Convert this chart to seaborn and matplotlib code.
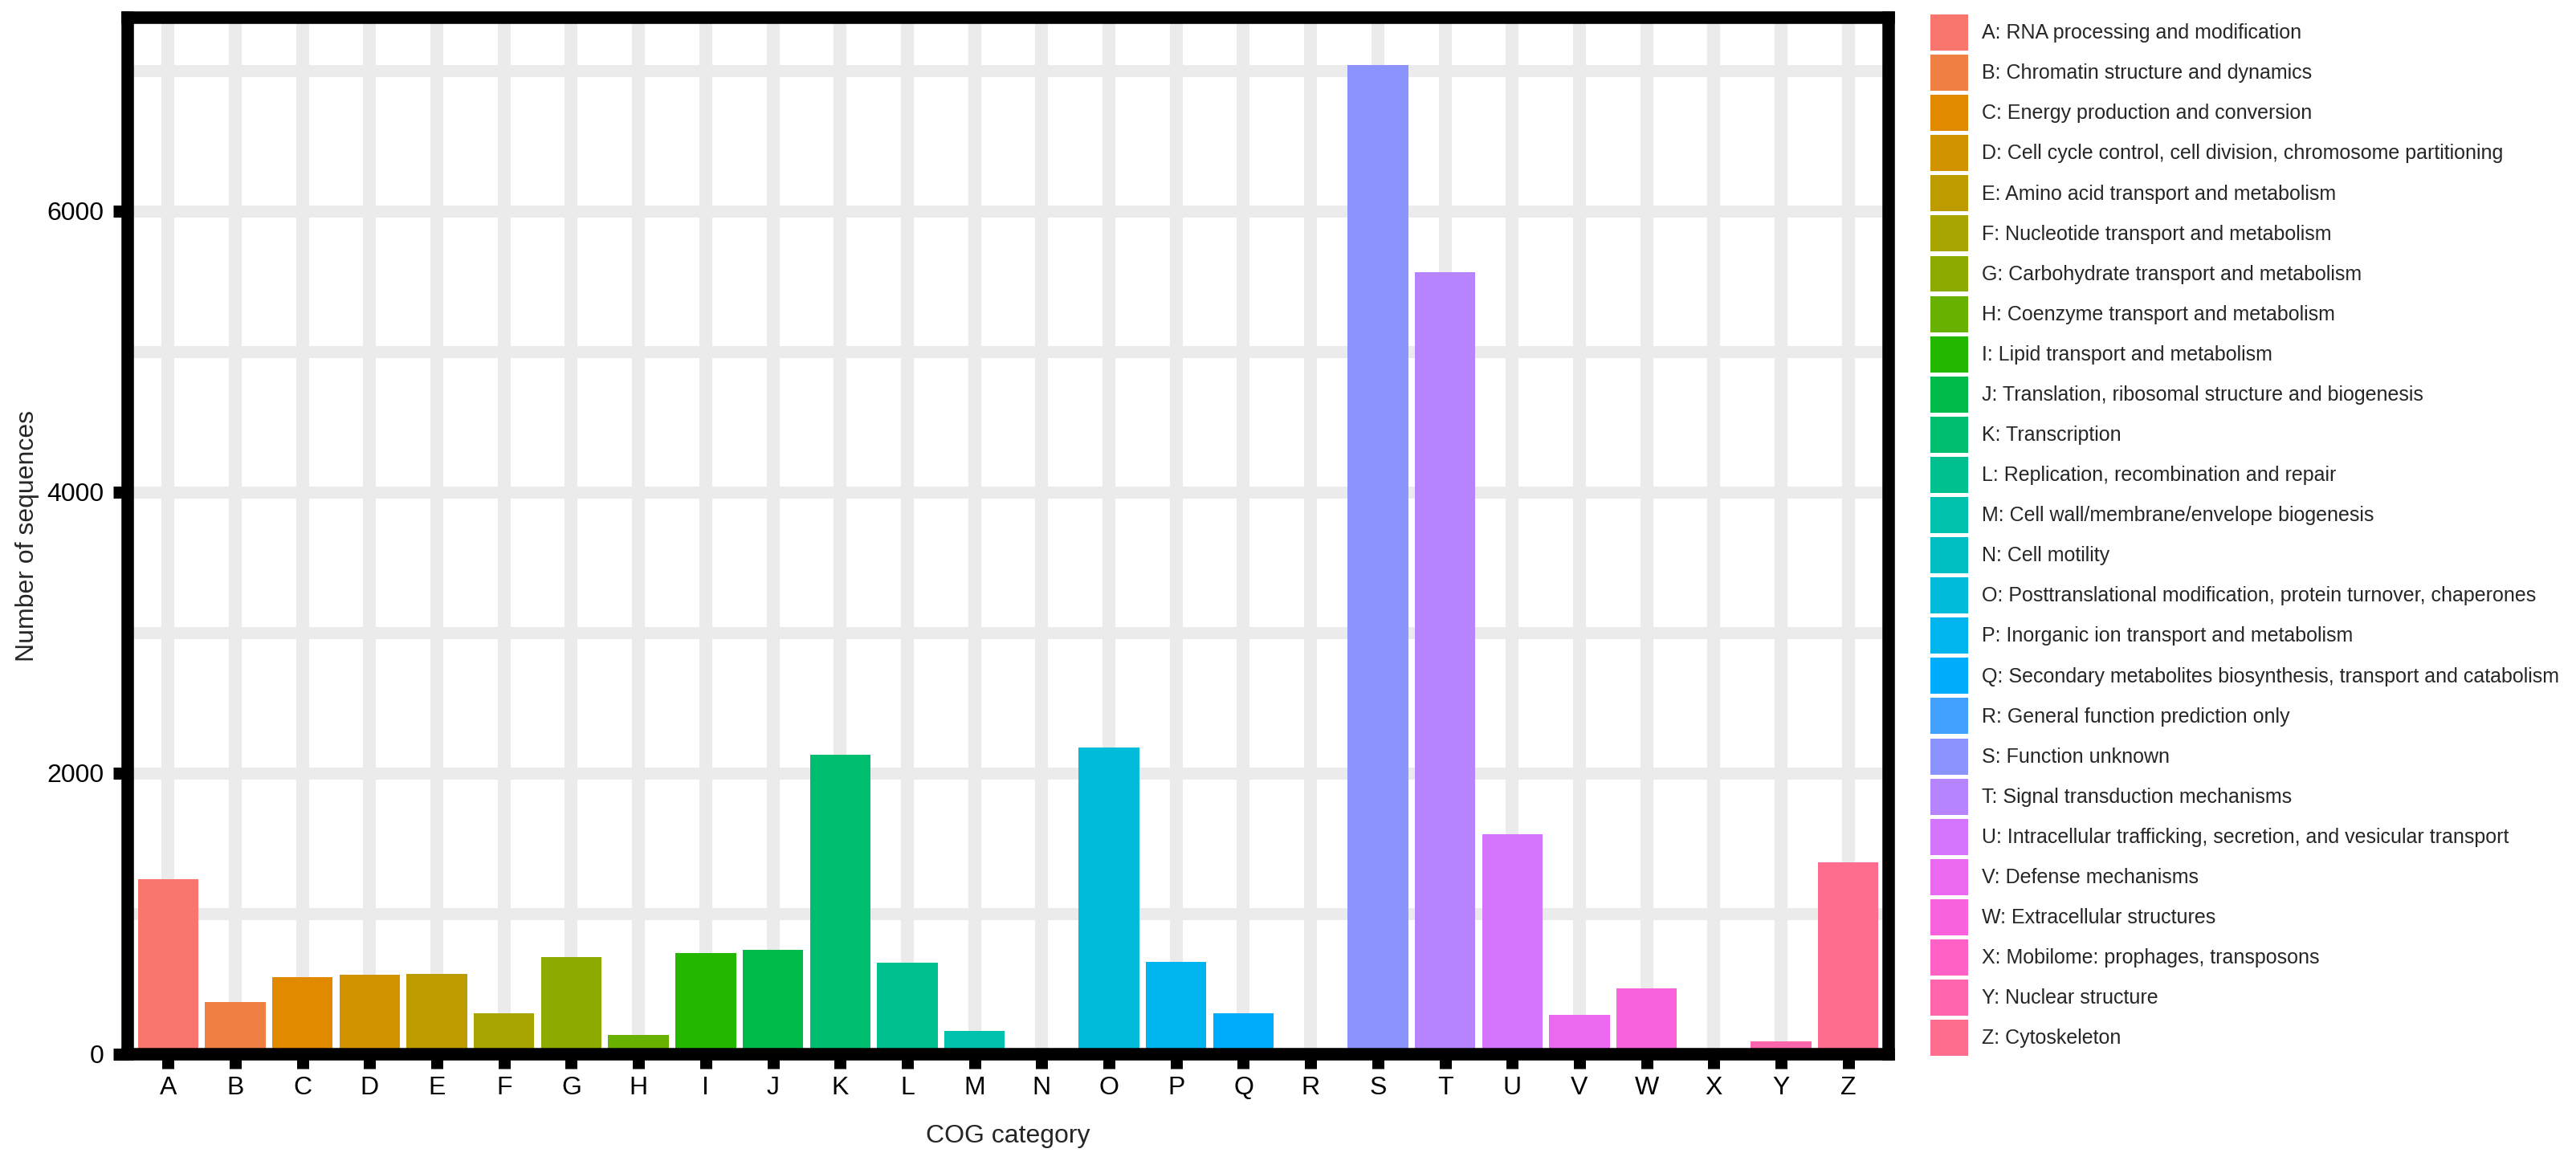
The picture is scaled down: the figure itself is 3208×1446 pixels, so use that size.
# COG functional classification bar chart

import numpy as np
import pandas as pd
import seaborn as sns
import matplotlib
matplotlib.use("Agg")
import matplotlib.pyplot as plt
from matplotlib.patches import Patch
from matplotlib.ticker import FixedLocator

# Data
categories = list("ABCDEFGHIJKLMNOPQRSTUVWXYZ")
counts = [1246, 372, 550, 567, 572, 292, 692, 138, 721, 744, 2131, 652, 167, 0,
          2183, 658, 292, 0, 7042, 5568, 1566, 281, 470, 0, 92, 1366]
descriptions = [
    "A: RNA processing and modification",
    "B: Chromatin structure and dynamics",
    "C: Energy production and conversion",
    "D: Cell cycle control, cell division, chromosome partitioning",
    "E: Amino acid transport and metabolism",
    "F: Nucleotide transport and metabolism",
    "G: Carbohydrate transport and metabolism",
    "H: Coenzyme transport and metabolism",
    "I: Lipid transport and metabolism",
    "J: Translation, ribosomal structure and biogenesis",
    "K: Transcription",
    "L: Replication, recombination and repair",
    "M: Cell wall/membrane/envelope biogenesis",
    "N: Cell motility",
    "O: Posttranslational modification, protein turnover, chaperones",
    "P: Inorganic ion transport and metabolism",
    "Q: Secondary metabolites biosynthesis, transport and catabolism",
    "R: General function prediction only",
    "S: Function unknown",
    "T: Signal transduction mechanisms",
    "U: Intracellular trafficking, secretion, and vesicular transport",
    "V: Defense mechanisms",
    "W: Extracellular structures",
    "X: Mobilome: prophages, transposons",
    "Y: Nuclear structure",
    "Z: Cytoskeleton",
]
y_ticks = [0, 2000, 4000, 6000]
y_minor = [1000, 3000, 5000, 7000]


# ggplot2 default hue palette (hcl, c=100, l=65)
def hcl_hex(h, c=100.0, l=65.0):
    wx, wy, wz = 95.047, 100.0, 108.883
    hr = np.deg2rad(h)
    U, V = c * np.cos(hr), c * np.sin(hr)
    Y = wy * ((l + 16) / 116) ** 3
    t = wx + 15 * wy + 3 * wz
    u = U / (13 * l) + 4 * wx / t
    v = V / (13 * l) + 9 * wy / t
    X = 9.0 * Y * u / (4 * v)
    Z = -X / 3 - 5 * Y + 3 * Y / v
    rgb = np.array([
        3.240479 * X - 1.537150 * Y - 0.498535 * Z,
        -0.969256 * X + 1.875992 * Y + 0.041556 * Z,
        0.055648 * X - 0.204043 * Y + 1.057311 * Z,
    ]) / wy
    rgb = np.where(rgb > 0.00304, 1.055 * np.abs(rgb) ** (1 / 2.4) - 0.055, 12.92 * rgb)
    rgb = np.clip(np.round(rgb * 255), 0, 255).astype(int)
    return "#{:02X}{:02X}{:02X}".format(*rgb)


hues = np.linspace(15, 375, len(categories) + 1)[:-1]
colors = [hcl_hex(h) for h in hues]

df = pd.DataFrame({"category": categories, "count": counts})

sns.set_style("white")
plt.rcParams["font.family"] = ["Liberation Sans", "DejaVu Sans"]

W, H, DPI = 3208, 1446, 200
fig = plt.figure(figsize=(W / DPI, H / DPI), dpi=DPI)
ax = fig.add_axes([159 / W, 1 - 1313 / H, (2352 - 159) / W, (1313 - 21.5) / H])

sns.barplot(data=df, x="category", y="count", hue="category", order=categories,
            hue_order=categories, palette=colors, dodge=False, width=0.9,
            saturation=1, linewidth=0, legend=False, ax=ax)

ax.set_xlim(-0.6, len(categories) - 0.4)
ax.set_ylim(0, 7380)
ax.set_yticks(y_ticks)
ax.yaxis.set_minor_locator(FixedLocator(y_minor))

# Panel grid
ax.set_axisbelow(True)
ax.grid(True, which="both", axis="y", color="#EBEBEB", linewidth=5.4)
ax.grid(True, which="major", axis="x", color="#EBEBEB", linewidth=5.8)

# Thick panel border
for side in ["left", "right", "top", "bottom"]:
    ax.spines[side].set_visible(True)
    ax.spines[side].set_color("black")
    ax.spines[side].set_linewidth(5.6)

ax.tick_params(axis="both", which="major", length=6.5, width=5.4, color="black",
               labelsize=11.5, labelcolor="black", bottom=True, left=True)
ax.tick_params(axis="x", pad=3.2)
ax.tick_params(axis="y", pad=4)
ax.tick_params(which="minor", length=0)

ax.set_xlabel("COG category", fontsize=11.5)
ax.set_ylabel("Number of sequences", fontsize=11.5)
ax.xaxis.set_label_coords(0.5, -0.067)
ax.yaxis.set_label_coords(-0.050, 0.5)

# Legend
handles = [Patch(facecolor=c, edgecolor="none", label=d) for c, d in zip(colors, descriptions)]
fig.legend(handles=handles, loc="upper left", bbox_to_anchor=(2404 / W, 1 - 18 / H),
           frameon=False, fontsize=9, handlelength=1.88, handleheight=2.39,
           labelspacing=0.205, handletextpad=0.68, borderpad=0, borderaxespad=0)

fig.savefig("out.png", dpi=DPI)
